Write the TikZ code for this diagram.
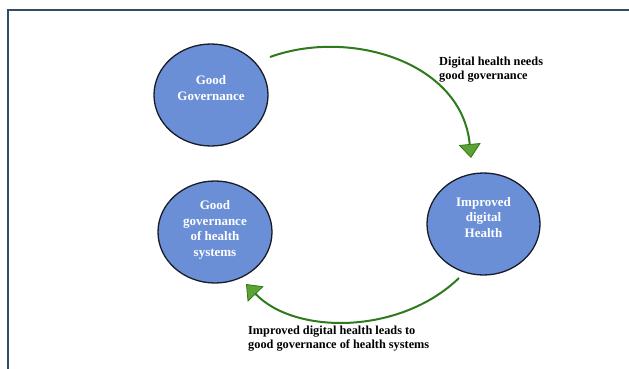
\documentclass[tikz,border=0pt]{standalone}
\usepackage{fontspec}
\setmainfont{Liberation Serif}
\usetikzlibrary{arrows.meta,shapes.geometric}
\definecolor{framecol}{RGB}{50,75,105}
\definecolor{ellfill}{RGB}{106,143,214}
\definecolor{ellline}{RGB}{25,28,40}
\definecolor{arrline}{RGB}{46,122,28}
\definecolor{arrfill}{RGB}{92,162,52}
\tikzset{
  bubble/.style={ellipse, draw=ellline, line width=1.3pt, fill=ellfill, inner sep=0pt},
  bubbletext/.style={text=white, font=\fontsize{13}{15.5}\selectfont\bfseries, align=center, inner sep=0pt, anchor=base},
  flowlabel/.style={text=black, font=\fontsize{12.3}{14}\selectfont\bfseries, align=left, inner sep=0pt, anchor=base west},
  flow/.style={draw=arrline, line width=2pt, -{Triangle[width=22pt,length=14pt,fill=arrfill,color=arrline,line width=0.8pt]}},
}
\begin{document}
\begin{tikzpicture}[x=1pt,y=-1pt]
\useasboundingbox (0,0) rectangle (629,369);
\fill[white] (0,0) rectangle (629,369);
\begin{scope}
\clip (0,0) rectangle (629,369);
\draw[framecol, line width=2.5pt] (8,10) rectangle (640,380);
\end{scope}
% nodes
\node[bubble, minimum width=114pt, minimum height=102pt] (gg) at (211,95) {};
\node[bubbletext] (ggt) at (211,100) {Good\\Governance};
\node[bubble, minimum width=114pt, minimum height=102pt] (ghs) at (215,232) {};
\node[bubbletext] (ghst) at (215,256) {Good\\governance\\of health\\systems};
\node[bubble, minimum width=113pt, minimum height=102pt] (idh) at (483.5,224) {};
\node[bubbletext] (idht) at (483.5,237) {Improved\\digital\\Health};
% connector ends
\coordinate (a1s) at (270,57);
\coordinate (a1e) at (471,158);
\coordinate (a2s) at (459,278);
\coordinate (a2e) at (246,284);
\draw[flow] (a1s) .. controls (350,28) and (462,62) .. (a1e);
\draw[flow] (a2s) .. controls (400,335) and (295,335) .. (a2e);
% labels
\node[flowlabel] (l1) at (439,80) {Digital health needs\\good governance};
\node[flowlabel] (l2) at (248,348) {Improved digital health leads to\\good governance of health systems};
\end{tikzpicture}
\end{document}
